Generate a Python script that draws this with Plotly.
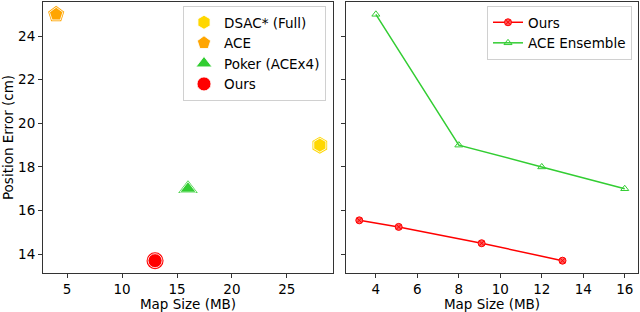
import plotly.graph_objects as go

# Left panel: methods (map size MB, position error cm)
methods = ["DSAC* (Full)", "ACE", "Poker (ACEx4)", "Ours"]
method_size = [28, 4, 16, 13]
method_err = [19, 25, 17, 13.7]
method_color = ["#FFD700", "#FFA500", "#32CD32", "#FF0000"]
method_symbol = ["hexagon", "pentagon", "triangle-up", "circle"]

# Right panel: lines
ours_size = [3.2, 5.1, 9.1, 13.0]
ours_err = [15.55, 15.25, 14.5, 13.7]
ens_size = [4, 8, 12, 16]
ens_err = [25, 19, 18, 17]

FONT = "DejaVu Sans"
FS = 13.5
fig = go.Figure()

for name, xs, ys, c, s in zip(methods, method_size, method_err, method_color, method_symbol):
    fig.add_trace(go.Scatter(x=[xs], y=[ys], mode="markers", showlegend=False, hoverinfo="skip",
                             marker=dict(symbol=s, size=17, color=c, line=dict(width=0)),
                             xaxis="x", yaxis="y"))
    fig.add_trace(go.Scatter(x=[xs], y=[ys], mode="markers", name=name, legend="legend",
                             marker=dict(symbol=s, size=14, color=c, line=dict(width=1, color="rgba(255,255,255,0.85)")),
                             xaxis="x", yaxis="y"))

fig.add_trace(go.Scatter(x=ours_size, y=ours_err, mode="lines+markers", name="Ours", legend="legend2",
                         line=dict(color="#FF0000", width=1.5),
                         marker=dict(symbol="circle-x", size=7, color="rgba(255,90,90,1)",
                                     line=dict(color="#FF0000", width=1)),
                         xaxis="x2", yaxis="y2"))
fig.add_trace(go.Scatter(x=ens_size, y=ens_err, mode="lines+markers", name="ACE Ensemble", legend="legend2",
                         line=dict(color="#32CD32", width=1.5),
                         marker=dict(symbol="triangle-up-open", size=7, color="#32CD32",
                                     line=dict(color="#32CD32", width=1)),
                         xaxis="x2", yaxis="y2"))

axis_common = dict(showgrid=False, zeroline=False, showline=True, mirror=True, linecolor="#333333",
                   linewidth=1, ticks="outside", ticklen=4, tickcolor="#333333",
                   tickfont=dict(family=FONT, size=FS, color="black"), automargin=False)
yr = [13.135, 25.565]

fig.update_layout(
    width=640, height=312, margin=dict(l=0, r=0, t=0, b=0),
    paper_bgcolor="white", plot_bgcolor="white",
    font=dict(family=FONT, size=FS, color="black"),
    xaxis=dict(domain=[43/640, 333/640], range=[2.8, 29.2], tickvals=[5, 10, 15, 20, 25],
               title=dict(text="Map Size (MB)", font=dict(family=FONT, size=FS), standoff=2),
               anchor="y", **axis_common),
    yaxis=dict(domain=[0.125, 1 - 2/312], range=yr, tickvals=[14, 16, 18, 20, 22, 24],
               title=dict(text="Position Error (cm)", font=dict(family=FONT, size=FS), standoff=4),
               anchor="x", **axis_common),
    xaxis2=dict(domain=[346/640, 638/640], range=[2.56, 16.64], tickvals=[4, 6, 8, 10, 12, 14, 16],
                title=dict(text="Map Size (MB)", font=dict(family=FONT, size=FS), standoff=2),
                anchor="y2", **axis_common),
    yaxis2=dict(domain=[0.125, 1 - 2/312], range=yr, tickvals=[14, 16, 18, 20, 22, 24],
                showticklabels=False, anchor="x2", **axis_common),
    legend=dict(x=326/640, y=1 - 6/312, xanchor="right", yanchor="top",
                bgcolor="rgba(255,255,255,0.8)", bordercolor="#D0D0D0", borderwidth=1,
                font=dict(family=FONT, size=13.5), itemsizing="trace", tracegroupgap=0),
    legend2=dict(x=632/640, y=1 - 6/312, xanchor="right", yanchor="top",
                 bgcolor="rgba(255,255,255,0.8)", bordercolor="#D0D0D0", borderwidth=1,
                 font=dict(family=FONT, size=13.5)),
)

fig.write_html("out.html", config={"displayModeBar": False},
               post_script="document.body.style.margin='0';document.body.style.overflow='hidden';")
